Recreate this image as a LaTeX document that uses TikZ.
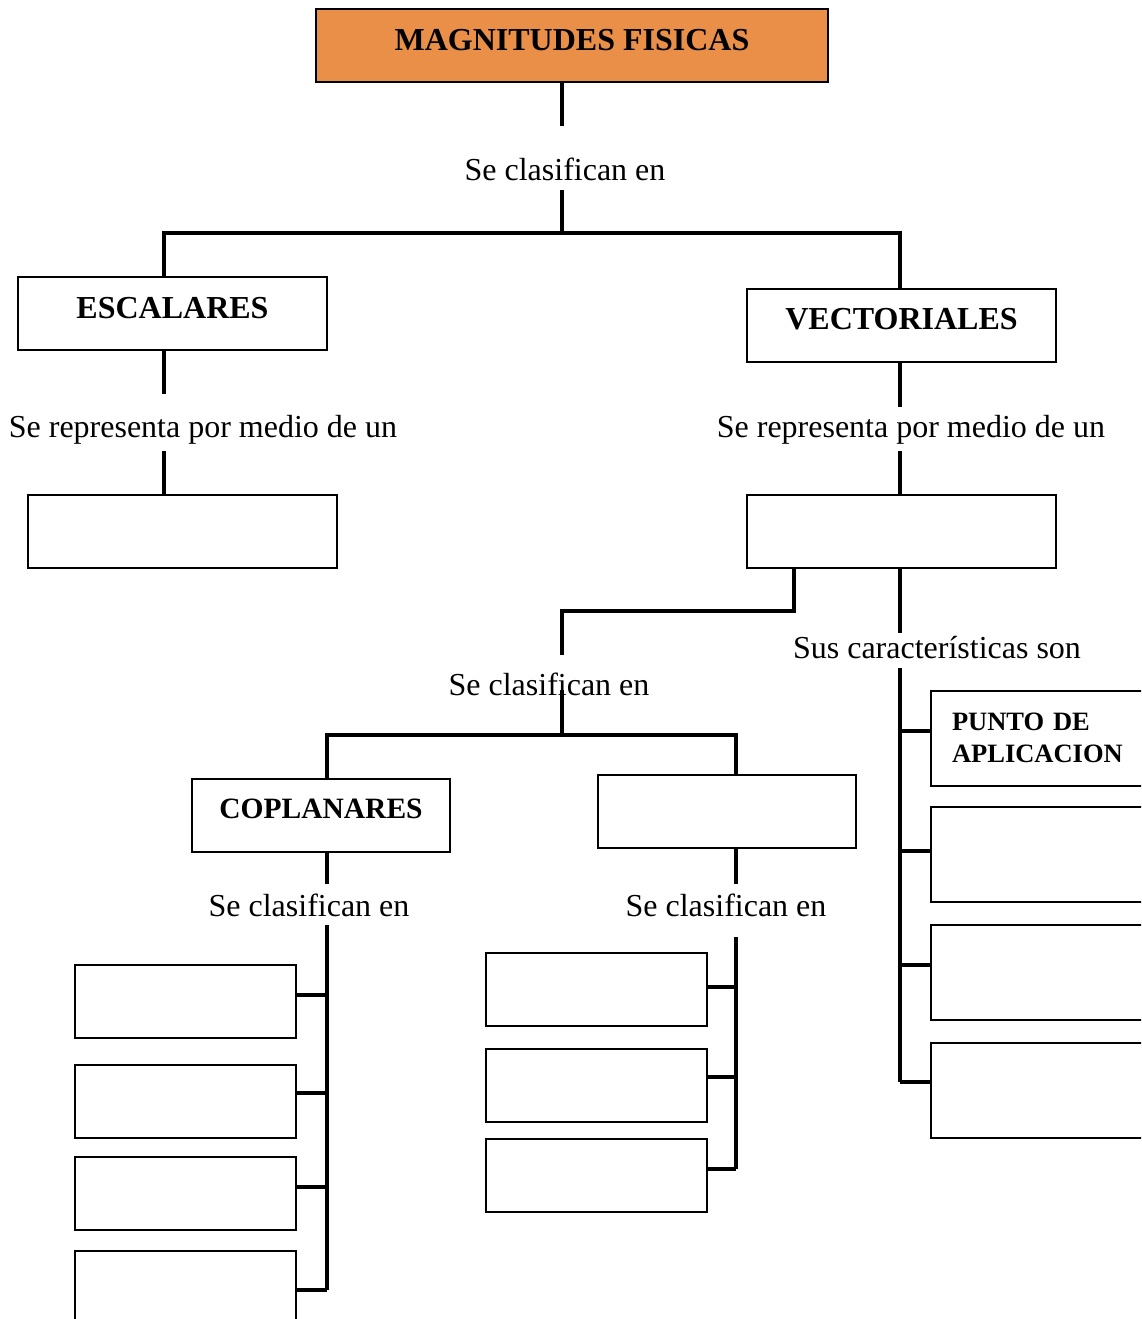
\documentclass[tikz,border=0pt]{standalone}
\usepackage{fontspec}
\setmainfont{Liberation Serif}
\definecolor{naranja}{RGB}{233,143,72}
\tikzset{
  caja/.style={draw, line width=2pt, inner sep=0pt, minimum height=73pt, text depth=12pt,
    font=\bfseries\fontsize{32}{36}\selectfont},
  cajita/.style={draw, line width=2pt, inner sep=0pt, minimum width=221pt, minimum height=73pt},
  cajader/.style={draw, line width=2pt, anchor=west, inner ysep=0pt, inner xsep=21pt,
    text width=209pt, align=left, minimum height=95pt, font=\bfseries\fontsize{26.5}{32}\selectfont},
  texto/.style={inner sep=0pt, font=\fontsize{32}{36}\selectfont},
  linea/.style={line width=4pt}
}
\begin{document}
\begin{tikzpicture}[x=1pt,y=-1pt]
	\useasboundingbox (0,0) rectangle (1141,1319);
	\clip (0,0) rectangle (1141,1319);

	% cabecera
	\node[caja, fill=naranja, minimum width=512pt] (magnitudes) at (572,46) {MAGNITUDES FISICAS};
	\node[texto] (clasif1) at (565,169) {Se clasifican en};
	\coordinate (r1) at (562,233);
	\coordinate (e1) at (164,233);
	\coordinate (v1) at (900,233);
	\draw[linea] (r1 |- magnitudes.south) -- ++(0,43);
	\draw[linea] (r1) -- ++(0,-43);

	% escalares
	\node[caja, minimum width=309pt] (escalares) at (172.5,313.5) {ESCALARES};
	\node[texto] (rep1) at (203,430) {Se representa por medio de un};
	\node[caja, minimum width=309pt] (escrep) at (182.5,531.5) {};
	\draw[linea] (e1 |- escalares.south) -- ++(0,43);
	\draw[linea] (e1 |- escrep.north) -- ++(0,-43);

	% vectoriales
	\node[caja, minimum width=309pt] (vectoriales) at (901.5,325) {VECTORIALES};
	\node[texto] (rep2) at (911,430) {Se representa por medio de un};
	\node[caja, minimum width=309pt] (vecrep) at (901.5,531.5) {};
	\draw[linea] (e1 |- escalares.north) -- (e1) -- (v1) -- (v1 |- vectoriales.north);
	\draw[linea] (v1 |- vectoriales.south) -- ++(0,44);
	\draw[linea] (v1 |- vecrep.north) -- ++(0,-43);

	% clasificacion de vectores
	\coordinate (k1) at (794,611);
	\coordinate (k2) at (562,611);
	\draw[linea] (k1 |- vecrep.south) -- (k1) -- (k2) -- ++(0,44);
	\node[texto] (clasif2) at (549,684) {Se clasifican en};
	\coordinate (r2) at (562,735);
	\coordinate (c1) at (327,735);
	\coordinate (c2) at (736,735);
	\draw[linea] (r2) -- ++(0,-45);
	\node[caja, minimum width=258pt, font=\bfseries\fontsize{29.5}{34}\selectfont] (coplanares) at (321,815) {COPLANARES};
	\node[caja, minimum width=258pt] (vacio) at (727,811) {};
	\draw[linea] (c1 |- coplanares.north) -- (c1) -- (c2) -- (c2 |- vacio.north);

	% coplanares
	\draw[linea] (c1 |- coplanares.south) -- ++(0,31);
	\node[texto] (clasif3) at (309,905) {Se clasifican en};
	\node[cajita] (a1) at (185,1001) {};
	\node[cajita] (a2) at (185,1101) {};
	\node[cajita] (a3) at (185,1193) {};
	\node[cajita] (a4) at (185,1287.5) {};
	\coordinate (t1) at (327,1290);
	\draw[linea] (t1) -- ++(0,-365);
	\draw[linea] ([yshift=6]a1.east) -- ++(32,0);
	\draw[linea] ([yshift=8]a2.east) -- ++(32,0);
	\draw[linea] ([yshift=6]a3.east) -- ++(32,0);
	\draw[linea] (a4.east |- t1) -- (t1);

	% el otro grupo
	\draw[linea] (c2 |- vacio.south) -- ++(0,35);
	\node[texto] (clasif4) at (726,905) {Se clasifican en};
	\node[cajita] (b1) at (596,989) {};
	\node[cajita] (b2) at (596,1085) {};
	\node[cajita] (b3) at (596,1175) {};
	\coordinate (t2) at (736,1169);
	\draw[linea] (t2) -- ++(0,-232);
	\draw[linea] ([yshift=2]b1.east) -- ++(30,0);
	\draw[linea] ([yshift=8]b2.east) -- ++(30,0);
	\draw[linea] (b3.east |- t2) -- (t2);

	% caracteristicas
	\draw[linea] (v1 |- vecrep.south) -- ++(0,64);
	\node[texto] (caract) at (937,648) {Sus características son};
	\node[cajader] (d1) at (930,738) {PUNTO DE\\APLICACION};
	\node[cajader] (d2) at (930,854) {};
	\node[cajader] (d3) at (930,972) {};
	\node[cajader] (d4) at (930,1090) {};
	\coordinate (t3) at (900,1082);
	\draw[linea] (t3) -- ++(0,-414);
	\draw[linea] (d1.west) ++(0,-7) -- (t3 |- 0,731);
	\draw[linea] (d2.west) ++(0,-3) -- (t3 |- 0,851);
	\draw[linea] (d3.west) ++(0,-7) -- (t3 |- 0,965);
	\draw[linea] (d4.west) ++(0,-8) -- (t3);

\end{tikzpicture}
\end{document}
